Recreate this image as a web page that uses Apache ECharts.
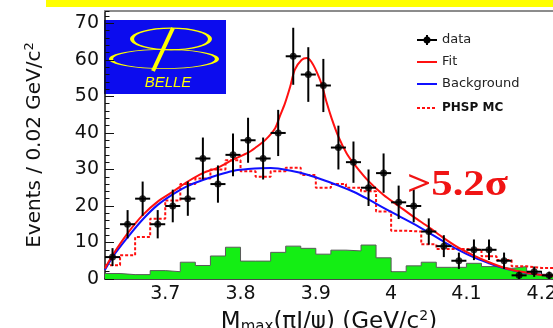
<!DOCTYPE html>
<html><head><meta charset="utf-8">
<script src="https://cdn.jsdelivr.net/npm/echarts@6/dist/echarts.min.js"></script>
<style>html,body{margin:0;padding:0;background:#fff}#c{width:553px;height:328px}</style>
</head><body><div id="c"></div>
<script>
// bin centres of the M_max(piJ/psi) histogram (GeV/c^2), bin width 0.02
const binCenters = [3.63,3.65,3.67,3.69,3.71,3.73,3.75,3.77,3.79,3.81,
                    3.83,3.85,3.87,3.89,3.91,3.93,3.95,3.97,3.99,4.01,
                    4.03,4.05,4.07,4.09,4.11,4.13,4.15,4.17,4.19,4.21];
const binHalfWidth = 0.01;
// data counts
const dataCounts = [6,15,22,15,20,22,33,26,34,38,
                    33,40,61,56,53,36,32,25,29,21,
                    20,13,9,5,8,8,5,1,2,1];
// green histogram
const sidebandHist = [1.5,1.2,1.2,2.3,2.0,4.6,3.7,6.3,8.7,4.9,
                      4.9,7.3,9.0,8.4,6.8,7.9,7.7,9.3,5.8,2.0,
                      3.6,4.6,3.2,3.2,4.3,3.4,2.9,3.4,1.3,1.3];
// PHSP MC (dotted red histogram)
const phspHist = [3.8,6.5,11.5,16.5,21.5,26,27.5,30,32.5,29.5,
                  28,29.5,30.5,28.5,25,26,25,24,18.5,13.2,
                  13,9.5,8.2,8.2,8,6.2,5.2,3.5,3,3];
// Fit curve (red)
const fitX = [3.62,3.63,3.65,3.67,3.69,3.71,3.73,3.75,3.77,3.79,3.81,3.82,3.833,3.846,3.852,3.859,3.866,3.872,3.881,3.888,3.894,3.901,3.908,3.914,3.921,3.93,3.941,3.952,3.97,3.99,4.01,4.03,4.05,4.07,4.09,4.11,4.13,4.15,4.17,4.19,4.21,4.23];
const fitY = [2.9,6.5,12.5,17.5,21.2,23.9,26.7,29.0,30.5,32.7,34.6,36.0,38.1,41.3,44.5,48.1,52.7,57.3,60,60.5,59.5,56.8,53.2,48.6,44,39,34.4,31.2,26.8,23,20,17,14.2,11.2,8.5,6.4,4.6,3.1,2.1,1.4,0.9,0.6];
// Background curve (blue)
const bgX = [3.62,3.63,3.65,3.67,3.69,3.71,3.73,3.75,3.77,3.79,3.81,3.84,3.87,3.89,3.91,3.93,3.95,3.97,3.99,4.01,4.03,4.05,4.07,4.09,4.11,4.13,4.15,4.17,4.19,4.21,4.23];
const bgY = [2.5,6.0,11.4,16.3,20.3,23.2,25.5,27.1,28.5,29.6,30.1,30.4,29.5,28.5,27.1,25.6,23.9,21.8,19.5,17.3,15.1,12.7,10.2,7.9,5.9,4.3,2.9,2.0,1.4,0.9,0.6];

const X_MIN = 3.62, X_MAX = 4.215, Y_MAX = 73.4;
const FONT = 'DejaVu Sans';

function stepData(vals){
  const out = [];
  binCenters.forEach((c,i)=>{ out.push([c-binHalfWidth, vals[i]]); out.push([c+binHalfWidth, vals[i]]); });
  return out;
}

const chart = echarts.init(document.getElementById('c'), null, {renderer:'canvas'});
const yellow = '#ffff00';
const option = {
  animation:false,
  backgroundColor:'#fff',
  grid:{left:105, top:11, right:0, bottom:49, outerBoundsMode:'none', containLabel:false},
  xAxis:[
    {type:'value', min:X_MIN, max:X_MAX, interval:0.02, position:'bottom',
     axisLine:{show:true, onZero:false, lineStyle:{color:'#111', width:1.5}},
     axisTick:{show:true, inside:true, length:4, lineStyle:{color:'#111', width:1}},
     axisLabel:{show:false}, splitLine:{show:false}},
    {type:'value', min:X_MIN, max:X_MAX, splitNumber:6, position:'bottom',
     axisLine:{show:false, onZero:false},
     axisTick:{show:true, inside:true, length:8, lineStyle:{color:'#111', width:1}},
     axisLabel:{show:true, showMinLabel:false, showMaxLabel:false, margin:6, fontSize:19, fontFamily:FONT, color:'#111'},
     splitLine:{show:false},
     name:'{a|M}{b|max}{a|(πJ/ψ) (GeV/c}{s|2}{a|)}', nameLocation:'middle', nameGap:24,
     nameTextStyle:{color:'#111', fontFamily:FONT, rich:{
       a:{fontSize:23, fontFamily:FONT, color:'#111', lineHeight:26},
       b:{fontSize:15, fontFamily:FONT, color:'#111', padding:[10,0,0,0]},
       s:{fontSize:14, fontFamily:FONT, color:'#111', padding:[0,0,12,0]}}}},
    {type:'value', min:X_MIN, max:X_MAX, position:'top',
     axisLine:{show:true, onZero:false, lineStyle:{color:'#8c8c8c', width:2}},
     axisTick:{show:false}, axisLabel:{show:false}, splitLine:{show:false}}
  ],
  yAxis:[
    {type:'value', min:0, max:Y_MAX, interval:2, position:'left',
     axisLine:{show:true, onZero:false, lineStyle:{color:'#111', width:1.5}},
     axisTick:{show:true, inside:true, length:4.5, lineStyle:{color:'#111', width:1}},
     axisLabel:{show:false}, splitLine:{show:false}},
    {type:'value', min:0, max:Y_MAX, interval:10, position:'left',
     axisLine:{show:false, onZero:false},
     axisTick:{show:true, inside:true, length:9, lineStyle:{color:'#111', width:1}},
     axisLabel:{show:true, showMaxLabel:false, margin:6, fontSize:19, fontFamily:FONT, color:'#111'},
     splitLine:{show:false},
     name:'{a|Events / 0.02 GeV/c}{s|2}', nameLocation:'middle', nameRotate:90, nameGap:58,
     nameTextStyle:{color:'#111', fontFamily:FONT, rich:{
       a:{fontSize:20, fontFamily:FONT, color:'#111', lineHeight:24},
       s:{fontSize:13, fontFamily:FONT, color:'#111', padding:[0,0,11,0]}}}}
  ],
  series:[
    {type:'line', name:'sideband', data:stepData(sidebandHist), symbol:'none', z:1,
     lineStyle:{color:'#5a5a5a', width:1}, areaStyle:{color:'#14ee14', opacity:1}},
    {type:'line', name:'PHSP MC', data:stepData(phspHist), symbol:'none', z:2,
     lineStyle:{color:'#ff1010', width:2, type:[3,2]}},
    {type:'line', name:'Background', data:bgX.map((x,i)=>[x,bgY[i]]), symbol:'none', smooth:0.35, z:3,
     lineStyle:{color:'#1010ff', width:2}},
    {type:'line', name:'Fit', data:fitX.map((x,i)=>[x,fitY[i]]), symbol:'none', smooth:0.3, z:4,
     lineStyle:{color:'#ff1010', width:2}},
    {type:'custom', name:'errors', z:5, clip:true,
     data:binCenters.map((x,i)=>[x, dataCounts[i], Math.sqrt(dataCounts[i])]),
     renderItem:function(params, api){
       const x = api.value(0), y = api.value(1), e = api.value(2);
       const p = api.coord([x,y]);
       const t = api.coord([x, y+e]);
       const b = api.coord([x, Math.max(0, y-e)]);
       const l = api.coord([x-binHalfWidth, y]);
       const r = api.coord([x+binHalfWidth, y]);
       const st = {stroke:'#000', lineWidth:2};
       return {type:'group', children:[
         {type:'line', shape:{x1:p[0], y1:t[1], x2:p[0], y2:b[1]}, style:st},
         {type:'line', shape:{x1:l[0], y1:p[1], x2:r[0], y2:p[1]}, style:st}
       ]};
     }},
    {type:'scatter', name:'data', z:6, data:binCenters.map((x,i)=>[x, dataCounts[i]]),
     symbol:'circle', symbolSize:7, itemStyle:{color:'#000'}}
  ],
  graphic:[
    {type:'rect', left:46, top:0, shape:{width:507, height:7}, style:{fill:yellow}, z:100},
    // Belle logo
    {type:'group', z:100, children:[
      {type:'rect', shape:{x:104, y:20, width:122, height:74}, style:{fill:'#0c0cee'}},
      {type:'circle', x:171, y:39, scaleY:0.28, shape:{cx:0, cy:0, r:39}, style:{fill:'none', stroke:yellow, lineWidth:4, strokeNoScale:true}},
      {type:'circle', x:164, y:59, scaleY:0.18, shape:{cx:0, cy:0, r:53}, style:{fill:'none', stroke:yellow, lineWidth:4, strokeNoScale:true}},
      {type:'line', shape:{x1:173, y1:28, x2:153, y2:71}, style:{stroke:yellow, lineWidth:4}},
      {type:'text', x:168, y:83, style:{text:'BELLE', font:'italic 15px "Liberation Sans"', fill:yellow, align:'center', verticalAlign:'middle', textAlign:'center', textVerticalAlign:'middle'}}
    ]},
    // legend
    {type:'group', z:100, children:[
      {type:'line', shape:{x1:417, y1:40, x2:437, y2:40}, style:{stroke:'#000', lineWidth:2}},
      {type:'line', shape:{x1:427, y1:35, x2:427, y2:45}, style:{stroke:'#000', lineWidth:2}},
      {type:'circle', shape:{cx:427, cy:40, r:3.5}, style:{fill:'#000'}},
      {type:'text', x:442, y:40, style:{text:'data', font:'13px "DejaVu Sans"', fill:'#222', verticalAlign:'middle', textVerticalAlign:'middle'}},
      {type:'line', shape:{x1:417, y1:62, x2:437, y2:62}, style:{stroke:'#ff1010', lineWidth:2}},
      {type:'text', x:442, y:62, style:{text:'Fit', font:'13px "DejaVu Sans"', fill:'#222', verticalAlign:'middle', textVerticalAlign:'middle'}},
      {type:'line', shape:{x1:417, y1:84, x2:437, y2:84}, style:{stroke:'#1010ff', lineWidth:2}},
      {type:'text', x:442, y:84, style:{text:'Background', font:'13px "DejaVu Sans"', fill:'#222', verticalAlign:'middle', textVerticalAlign:'middle'}},
      {type:'line', shape:{x1:417, y1:108, x2:437, y2:108}, style:{stroke:'#ff1010', lineWidth:2, lineDash:[3,2]}},
      {type:'text', x:442, y:108, style:{text:'PHSP MC', font:'bold 12px "DejaVu Sans"', fill:'#111', verticalAlign:'middle', textVerticalAlign:'middle'}}
    ]},
    {type:'text', x:407, y:186, scaleX:1.22, z:100,
     style:{text:'>5.2σ', font:'bold 35px "Liberation Serif"', fill:'#f01414', verticalAlign:'middle', textVerticalAlign:'middle'}}
  ]
};
chart.setOption(option);
</script>
</body></html>
